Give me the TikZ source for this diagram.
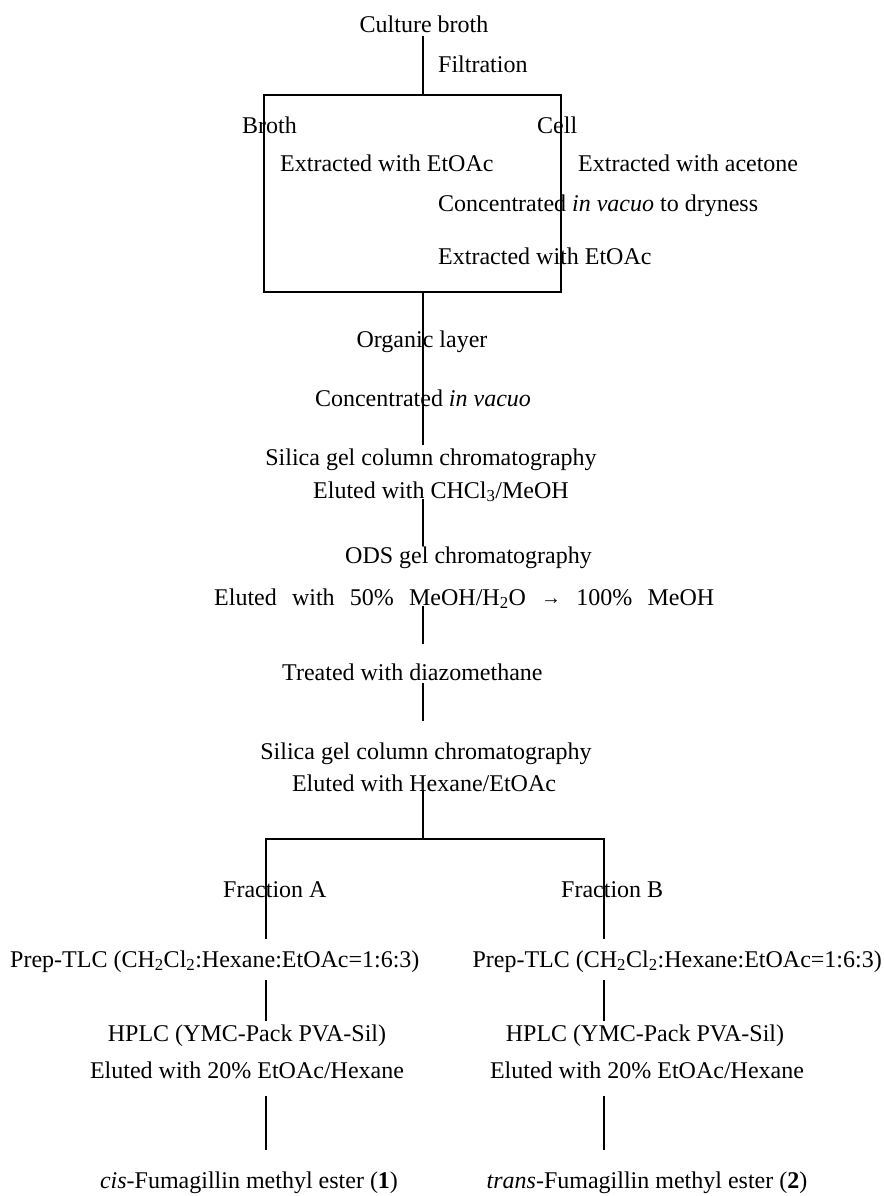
\documentclass[tikz,border=0pt]{standalone}
\usepackage{fontspec}
\setmainfont{Liberation Serif}
\begin{document}
\begin{tikzpicture}[x=1pt,y=-1pt,
  txt/.style={font=\fontsize{24}{28}\selectfont, inner xsep=0pt, inner ysep=3pt},
  conn/.style={line width=1.2pt, line cap=butt},
  frame/.style={draw, line width=1.2pt, inner sep=0pt, outer sep=0pt}]
\useasboundingbox (0,0) rectangle (883,1196);
\coordinate (cx) at (423,0);
\coordinate (lx) at (266,0);
\coordinate (rx) at (604,0);

% top
\node[txt, anchor=base] (culture) at (424,33) {Culture broth};
\node[txt, anchor=base west] (filt) at (438,73) {Filtration};
\node[frame, minimum width=297pt, minimum height=197pt, anchor=north west] (box) at (264,95) {};
\node[txt, anchor=base west] (broth) at (242,133) {Broth};
\node[txt, anchor=base west] (cell) at (537,133) {Cell};
\node[txt, anchor=base west] (extL) at (280,171) {Extracted with EtOAc};
\node[txt, anchor=base west] (extAc) at (578,171) {Extracted with acetone};
\node[txt, anchor=base west] (concD) at (438,211) {Concentrated \textit{in vacuo} to dryness};
\node[txt, anchor=base west] (extR) at (438,264) {Extracted with EtOAc};

% middle column
\node[txt, anchor=base] (organic) at (422,347) {Organic layer};
\node[txt, anchor=base] (concV) at (423,406) {Concentrated \textit{in vacuo}};
\node[txt, anchor=base] (silA) at (431,465) {Silica gel column chromatography};
\node[txt, anchor=base west] (eluA) at (313,498) {Eluted with CHCl\textsubscript{3}/MeOH};
\node[txt, anchor=base west] (ods) at (345,563) {ODS gel chromatography};
\node[txt, anchor=base west] (eluB) at (214,605) {\makebox[500pt][s]{Eluted with 50\% MeOH/H\textsubscript{2}O {\fontsize{20}{20}\selectfont\raisebox{0.5pt}{→}} 100\% MeOH}};
\node[txt, anchor=base west] (treated) at (282,680) {Treated with diazomethane};
\node[txt, anchor=base] (silB) at (426,759) {Silica gel column chromatography};
\node[txt, anchor=base] (eluC) at (424,791) {Eluted with Hexane/EtOAc};

\coordinate (brL) at (266,839);
\coordinate (brR) at (604,839);

% branches
\node[txt, anchor=base west] (fracA) at (223,897) {Fraction A};
\node[txt, anchor=base west] (fracB) at (561,897) {Fraction B};
\node[txt, anchor=base west] (prepA) at (10,967) {Prep-TLC (CH\textsubscript{2}Cl\textsubscript{2}:Hexane:EtOAc=1:6:3)};
\node[txt, anchor=base east] (prepB) at (882,967) {Prep-TLC (CH\textsubscript{2}Cl\textsubscript{2}:Hexane:EtOAc=1:6:3)};
\node[txt, anchor=base] (hplcA) at (247,1041) {HPLC (YMC-Pack PVA-Sil)};
\node[txt, anchor=base] (hplcB) at (645,1041) {HPLC (YMC-Pack PVA-Sil)};
\node[txt, anchor=base] (eluDA) at (247,1078) {Eluted with 20\% EtOAc/Hexane};
\node[txt, anchor=base] (eluDB) at (647,1078) {Eluted with 20\% EtOAc/Hexane};
\node[txt, anchor=base] (cis) at (249,1188) {\textit{cis}-Fumagillin methyl ester (\textbf{1})};
\node[txt, anchor=base] (trans) at (647,1188) {\textit{trans}-Fumagillin methyl ester (\textbf{2})};

% connectors
\draw[conn] (culture.south -| cx) -- (box.north -| cx);
\draw[conn] (box.south -| cx) -- (silA.north -| cx);
\draw[conn, shorten <=-6pt, shorten >=-3pt] (eluA.south -| cx) -- (ods.north -| cx);
\draw[conn, shorten <=-6pt, shorten >=16pt] (eluB.south -| cx) -- (treated.north -| cx);
\draw[conn, shorten >=18pt] (treated.south -| cx) -- (silB.north -| cx);
\draw[conn, shorten <=-4pt] (eluC.south -| cx) -- (cx |- brL);
\draw[conn, shorten <=8pt, shorten >=8pt] (prepA.north -| brL) -- (brL) -- (brR) -- (prepB.north -| brR);
\draw[conn, shorten <=5pt] (prepA.south -| lx) -- (hplcA.north -| lx);
\draw[conn, shorten <=5pt] (prepB.south -| rx) -- (hplcB.north -| rx);
\draw[conn, shorten <=14pt, shorten >=18pt] (eluDA.south -| lx) -- (cis.north -| lx);
\draw[conn, shorten <=14pt, shorten >=18pt] (eluDB.south -| rx) -- (trans.north -| rx);
\end{tikzpicture}
\end{document}
